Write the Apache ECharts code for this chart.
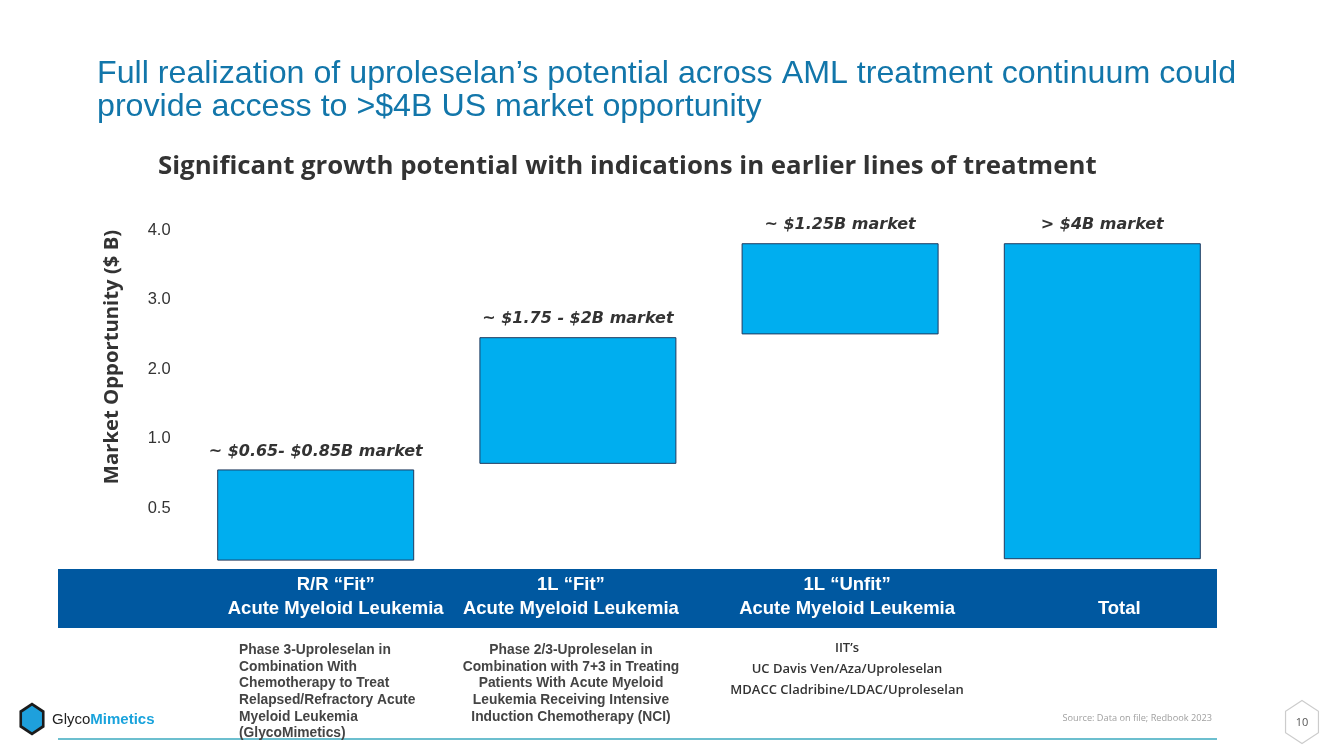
<!DOCTYPE html>
<html>
<head>
<meta charset="utf-8">
<script src="https://cdn.jsdelivr.net/npm/echarts@6/dist/echarts.min.js"></script>
<style>
  html, body { margin: 0; padding: 0; background: #ffffff; }
  #chart { width: 1333px; height: 749px; }
</style>
</head>
<body>
<div id="chart"></div>
<script>
// ---- Data ----
const categories = [
  'R/R \u201CFit\u201D\nAcute Myeloid Leukemia',
  '1L \u201CFit\u201D\nAcute Myeloid Leukemia',
  '1L \u201CUnfit\u201D\nAcute Myeloid Leukemia',
  'Total'
];
// values in the chart's visual axis units (tick steps: 0.5, 1.0, 2.0, 3.0, 4.0)
const barBase   = [0.25, 1.64, 3.50, 0.27];
const barHeight = [1.31, 1.82, 1.31, 4.54];
const barLabels = ['~ $0.65- $0.85B market', '~ $1.75 - $2B market', '~ $1.25B market', '> $4B market'];
const yTickLabels = ['', '0.5', '1.0', '2.0', '3.0', '4.0'];
const descriptions = [
  'Phase 3-Uproleselan in\nCombination With\nChemotherapy to Treat\nRelapsed/Refractory Acute\nMyeloid Leukemia\n(GlycoMimetics)',
  'Phase 2/3-Uproleselan in\nCombination with 7+3 in Treating\nPatients With Acute Myeloid\nLeukemia Receiving Intensive\nInduction Chemotherapy (NCI)',
  'IIT\u2019s\nUC Davis Ven/Aza/Uproleselan\nMDACC Cladribine/LDAC/Uproleselan',
  ''
];
const titleText = 'Full realization of uproleselan\u2019s potential across AML treatment continuum could\nprovide access to >$4B US market opportunity';
const subtitleText = 'Significant growth potential with indications in earlier lines of treatment';
const yAxisName = 'Market Opportunity ($ B)';
const sourceText = 'Source: Data on file; Redbook 2023';
const pageNumber = '10';

// ---- Layout (pixel tweaks, not data) ----
const labelShift = [20, -7, 7, 17]; // horizontal nudge of band labels

const chart = echarts.init(document.getElementById('chart'), null, { renderer: 'canvas' });

function hexPoints(cx, cy, rx, ry) {
  const pts = [];
  for (let i = 0; i < 6; i++) {
    const a = Math.PI / 180 * (60 * i - 90);
    pts.push([cx + rx * Math.cos(a), cy + ry * Math.sin(a)]);
  }
  return pts;
}

const descStyles = [
  { x: 239, y: 642, align: 'left', font: 'bold 13.8px "Liberation Sans", Arial, sans-serif', lh: 16.6, fill: '#444444' },
  { x: 571, y: 642, align: 'center', font: 'bold 13.8px "Liberation Sans", Arial, sans-serif', lh: 16.6, fill: '#444444' },
  { x: 847, y: 638, align: 'center', font: '600 13px "Open Sans", sans-serif', lh: 21, fill: '#333333' },
  { x: 1110, y: 642, align: 'center', font: 'bold 13.8px "Liberation Sans", Arial, sans-serif', lh: 16.6, fill: '#444444' }
];

const graphics = [
  { type: 'rect', z: -10, shape: { x: 58, y: 569, width: 1159, height: 59 }, style: { fill: '#0058a0' } },
  { type: 'line', shape: { x1: 58, y1: 739, x2: 1217, y2: 739 }, style: { stroke: '#6cbfcf', lineWidth: 2 } },
  // logo
  { type: 'polygon', shape: { points: hexPoints(32, 719, 14.5, 16.5) }, style: { fill: '#1b1b1b' } },
  { type: 'polygon', shape: { points: hexPoints(32, 719, 11.5, 13.2) }, style: { fill: '#1ea0dc' } },
  { type: 'text', x: 52, y: 720, style: {
      text: '{a|Glyco}{b|Mimetics}', verticalAlign: 'middle',
      rich: {
        a: { fontFamily: '"Liberation Sans", Arial, sans-serif', fontSize: 15, fill: '#222222' },
        b: { fontFamily: '"Liberation Sans", Arial, sans-serif', fontSize: 15, fontWeight: 'bold', fill: '#1aa3dc' }
      } } },
  // source
  { type: 'text', x: 1212, y: 718, style: { text: sourceText, align: 'right', verticalAlign: 'middle',
      font: '9.2px "Open Sans", sans-serif', fill: '#a0a0a0' } },
  // page number
  { type: 'polygon', shape: { points: hexPoints(1302, 722, 19, 21.5) }, style: { fill: '#ffffff', stroke: '#cccccc', lineWidth: 1.2 } },
  { type: 'text', x: 1302, y: 723, style: { text: pageNumber, align: 'center', verticalAlign: 'middle',
      font: '11px "Open Sans", sans-serif', fill: '#555555' } }
];
descriptions.forEach((d, i) => {
  if (!d) return;
  const s = descStyles[i];
  graphics.push({ type: 'text', x: s.x, y: s.y, style: { text: d, align: s.align, verticalAlign: 'top',
    font: s.font, lineHeight: s.lh, fill: s.fill } });
});

const catRich = {};
labelShift.forEach((d, i) => {
  catRich['c' + i] = {
    color: '#ffffff',
    fontFamily: '"Liberation Sans", Arial, sans-serif',
    fontWeight: 'bold',
    fontSize: 18.5,
    lineHeight: 24,
    padding: d >= 0 ? [0, 0, 0, 2 * d] : [0, -2 * d, 0, 0]
  };
});

const option = {
  backgroundColor: '#ffffff',
  animation: false,
  title: [
    { text: titleText, left: 92, top: 53,
      textStyle: { fontFamily: '"Liberation Sans", Arial, sans-serif', fontSize: 32.2, fontWeight: 'normal',
        color: '#1276aa', lineHeight: 33 } },
    { text: subtitleText, left: 153, top: 147,
      textStyle: { fontFamily: '"Open Sans", sans-serif', fontSize: 25.8, fontWeight: 'bold',
        color: '#333333', lineHeight: 30 } }
  ],
  grid: { left: 184.6, right: 99.6, top: 230, bottom: 171, containLabel: false },
  xAxis: {
    type: 'category',
    data: categories,
    axisLine: { show: false },
    axisTick: { show: false },
    axisLabel: {
      interval: 0,
      margin: -5,
      color: '#ffffff',
      fontFamily: '"Liberation Sans", Arial, sans-serif',
      fontWeight: 'bold',
      fontSize: 18.5,
      lineHeight: 24,
      rich: catRich,
      formatter: (v, i) => {
        const lines = v.indexOf('\n') >= 0 ? v.split('\n') : [' ', v];
        return lines.map(l => '{c' + i + '|' + l + '}').join('\n');
      }
    }
  },
  yAxis: {
    type: 'value',
    min: 0, max: 5, interval: 1,
    name: yAxisName,
    nameLocation: 'middle',
    nameGap: 62,
    nameRotate: 90,
    nameTextStyle: { fontFamily: '"Open Sans", sans-serif', fontSize: 20.3, fontWeight: 'bold', color: '#333333',
      padding: [0, 0, 0, 94] },
    axisLine: { show: false },
    axisTick: { show: false },
    splitLine: { show: false },
    axisLabel: {
      margin: 14,
      color: '#333333',
      fontFamily: '"Liberation Sans", Arial, sans-serif',
      fontSize: 16.5,
      formatter: v => yTickLabels[Math.round(v)] || ''
    }
  },
  series: [
    {
      type: 'bar', stack: 'w', barWidth: 197, silent: true,
      itemStyle: { color: 'transparent', borderColor: 'transparent' },
      data: barBase
    },
    {
      type: 'bar', stack: 'w', barWidth: 197,
      itemStyle: { color: '#00aeef', borderColor: '#1f3a5f', borderWidth: 1 },
      label: {
        show: true, position: 'top', distance: 10,
        fontFamily: '"DejaVu Sans", sans-serif', fontWeight: 'bold', fontStyle: 'italic',
        fontSize: 16, color: '#333333',
        formatter: p => barLabels[p.dataIndex]
      },
      data: barHeight
    }
  ],
  graphic: { elements: graphics }
};
chart.setOption(option);
</script>
</body>
</html>
